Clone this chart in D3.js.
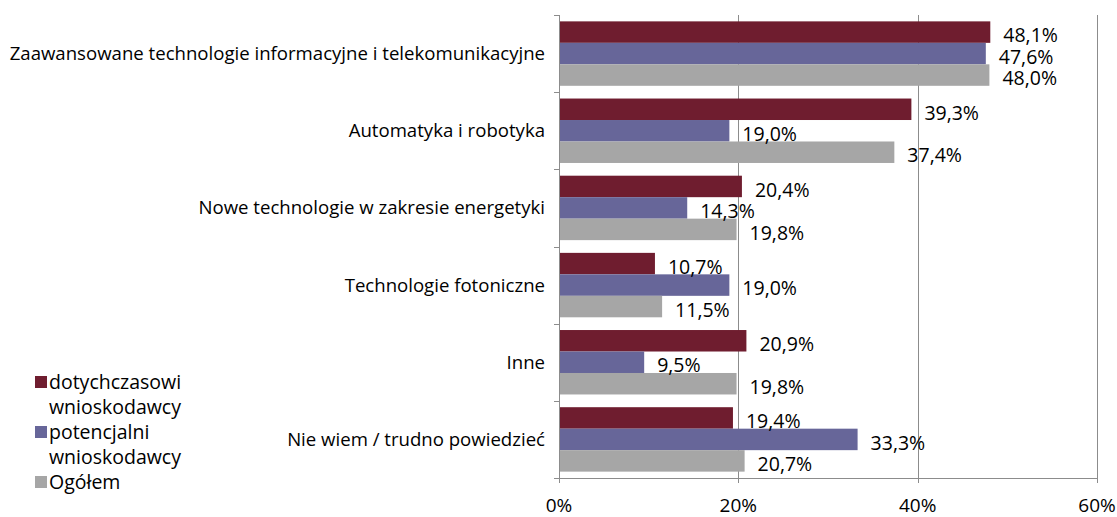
<!DOCTYPE html>
<html lang="pl">
<head>
<meta charset="UTF-8">
<title>Obszary technologiczne</title>
<style>
  body { margin: 0; background: #fff; }
  svg text { font-family: "Open Sans", "Noto Sans", sans-serif; fill: #000; }
</style>
</head>
<body>
<div id="chart"></div>
<script src="https://d3js.org/d3.v7.min.js"></script>
<script>
const categories = [
  "Zaawansowane technologie informacyjne i telekomunikacyjne",
  "Automatyka i robotyka",
  "Nowe technologie w zakresie energetyki",
  "Technologie fotoniczne",
  "Inne",
  "Nie wiem / trudno powiedzieć"
];
const seriesNames = ["dotychczasowi wnioskodawcy", "potencjalni wnioskodawcy", "Ogółem"];
const dotychczasowi = [48.1, 39.3, 20.4, 10.7, 20.9, 19.4];
const potencjalni = [47.6, 19.0, 14.3, 19.0, 9.5, 33.3];
const ogolem = [48.0, 37.4, 19.8, 11.5, 19.8, 20.7];
const xTicks = [0, 20, 40, 60];
const colors = ["#6f1d2f", "#676699", "#a6a6a6"];

const width = 1117, height = 517;
const plotLeft = 559, plotRight = 1097, plotTop = 15, plotBottom = 478;

const pl = d3.formatLocale({ decimal: ",", thousands: " ", grouping: [3], currency: ["", " zł"] });
const fmt = pl.format(".1f");

const svg = d3.select("#chart").append("svg")
  .attr("width", width).attr("height", height);

const x = d3.scaleLinear().domain([0, 60]).range([plotLeft, plotRight]);
const y = d3.scaleBand().domain(categories).range([plotTop, plotBottom])
  .paddingInner(0.165).paddingOuter(0.0825);
const ys = d3.scaleBand().domain([0, 1, 2]).range([0, y.bandwidth()]);

const series = [dotychczasowi, potencjalni, ogolem];
const rows = categories.map((c, i) => ({ cat: c, values: series.map(s => s[i]) }));

// gridlines
svg.append("g").selectAll("line")
  .data(xTicks.slice(1))
  .join("line")
  .attr("x1", d => Math.round(x(d)) + 0.5).attr("x2", d => Math.round(x(d)) + 0.5)
  .attr("y1", plotTop).attr("y2", plotBottom)
  .attr("stroke", "#8c8c8c");

// bars
const groups = svg.append("g").selectAll("g")
  .data(rows)
  .join("g")
  .attr("transform", d => `translate(0,${y(d.cat)})`);

groups.selectAll("rect")
  .data(d => d.values.map((v, k) => ({ v, k })))
  .join("rect")
  .attr("x", x(0))
  .attr("y", d => ys(d.k))
  .attr("width", d => x(d.v) - x(0))
  .attr("height", ys.bandwidth())
  .attr("fill", d => colors[d.k]);

groups.selectAll("text.val")
  .data(d => d.values.map((v, k) => ({ v, k })))
  .join("text")
  .attr("class", "val")
  .attr("x", d => x(d.v) + 13)
  .attr("y", d => ys(d.k) + ys.bandwidth() - 0.5)
  .style("font-size", "19.5px")
  .text(d => fmt(d.v) + "%");

// left axis
const yAxis = svg.append("g");
yAxis.append("line")
  .attr("x1", plotLeft + 0.5).attr("x2", plotLeft + 0.5)
  .attr("y1", plotTop).attr("y2", plotBottom)
  .attr("stroke", "#8c8c8c");
yAxis.selectAll("line.tick")
  .data(d3.range(categories.length + 1))
  .join("line")
  .attr("class", "tick")
  .attr("x1", plotLeft - 5).attr("x2", plotLeft)
  .attr("y1", i => Math.round(plotTop + i * y.step()) + 0.5)
  .attr("y2", i => Math.round(plotTop + i * y.step()) + 0.5)
  .attr("stroke", "#8c8c8c");
yAxis.selectAll("text")
  .data(categories)
  .join("text")
  .attr("x", plotLeft - 14)
  .attr("y", d => y(d) + ys(1) + ys.bandwidth() / 2)
  .attr("dy", "0.35em")
  .attr("text-anchor", "end")
  .style("font-size", "18.6px")
  .text(d => d);

// bottom axis
const xAxis = svg.append("g");
xAxis.append("line")
  .attr("x1", plotLeft).attr("x2", plotRight)
  .attr("y1", plotBottom + 0.5).attr("y2", plotBottom + 0.5)
  .attr("stroke", "#8c8c8c");
xAxis.selectAll("line.tick")
  .data(xTicks)
  .join("line")
  .attr("class", "tick")
  .attr("x1", d => Math.round(x(d)) + 0.5).attr("x2", d => Math.round(x(d)) + 0.5)
  .attr("y1", plotBottom).attr("y2", plotBottom + 5)
  .attr("stroke", "#8c8c8c");
xAxis.selectAll("text")
  .data(xTicks)
  .join("text")
  .attr("x", d => x(d))
  .attr("y", plotBottom + 34)
  .attr("text-anchor", "middle")
  .style("font-size", "19px")
  .text(d => d + "%");

// legend
const legendLines = [["dotychczasowi", "wnioskodawcy"], ["potencjalni", "wnioskodawcy"], ["Ogółem"]];
const legend = svg.append("g").attr("transform", "translate(35,389)");
let line = 0;
legendLines.forEach((lines, k) => {
  legend.append("rect")
    .attr("x", 0).attr("y", line * 25 - 13)
    .attr("width", 12).attr("height", 12)
    .attr("fill", colors[k]);
  lines.forEach((t, j) => {
    legend.append("text")
      .attr("x", 14).attr("y", (line + j) * 25)
      .style("font-size", "19.5px")
      .text(t);
  });
  line += lines.length;
});
</script>
</body>
</html>
